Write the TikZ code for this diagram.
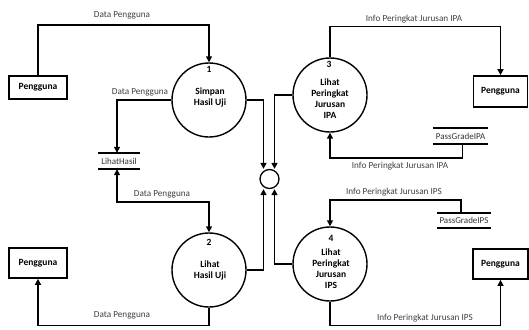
\documentclass[tikz,border=0pt]{standalone}
\usepackage{fontspec}
\setmainfont{Carlito}
\usetikzlibrary{arrows.meta}
\begin{document}
\begin{tikzpicture}[x=1pt,y=-1pt,
  font=\fontsize{9}{10.5}\selectfont,
  flow/.style={line width=1.5pt,-{Triangle[length=6pt,width=6pt]}},
  flowboth/.style={line width=1.5pt,{Triangle[length=6pt,width=6pt]}-{Triangle[length=6pt,width=6pt]}},
  ent/.style={draw,line width=1.7pt,minimum width=58pt,inner sep=0pt,font=\fontsize{9.5}{11}\selectfont\bfseries},
  proc/.style={draw,circle,line width=1.4pt,minimum size=74pt,inner sep=0pt},
  ptext/.style={align=center,inner sep=0pt,font=\fontsize{9.5}{11}\selectfont\bfseries},
  store/.style={minimum height=16pt,inner sep=0pt,text=black!80,font=\fontsize{9}{10.5}\selectfont},
  storeline/.style={line width=1.5pt},
  lbl/.style={inner sep=0pt,text=black!75,font=\fontsize{9.2}{10.5}\selectfont}]
\useasboundingbox (0,0) rectangle (529,329);

% external entities
\node[ent,minimum height=23pt] (e1) at (38,87.5) {Pengguna};
\node[ent,minimum height=30pt] (e2) at (38,263) {Pengguna};
\node[ent,minimum width=54pt,minimum height=31pt] (e3) at (500.5,91.5) {Pengguna};
\node[ent,minimum width=55pt,minimum height=30pt] (e4) at (500.5,264) {Pengguna};

% processes
\node[proc] (p1) at (209,100) {};
\node[ptext] (n1) at (209,69) {1};
\node[ptext] (t1) at (210,97) {Simpan\\Hasil Uji};

\node[proc] (p2) at (209,270) {};
\node[ptext] (n2) at (209,242) {2};
\node[ptext] (t2) at (210,270.5) {Lihat\\Hasil Uji};

\node[proc] (p3) at (330,95) {};
\node[ptext] (n3) at (329,64) {3};
\node[ptext] (t3) at (330,98.5) {Lihat\\Peringkat\\Jurusan\\IPA};

\node[proc] (p4) at (330,264) {};
\node[ptext] (n4) at (331,238) {4};
\node[ptext] (t4) at (331,268.5) {Lihat\\Peringkat\\Jurusan\\IPS};

% hub
\node[draw,circle,line width=1.3pt,minimum size=19pt,inner sep=0pt] (h) at (269.5,179) {};

% data stores
\node[store,minimum width=42pt] (s1) at (119,161) {LihatHasil};
\draw[storeline] (s1.north west) -- (s1.north east) (s1.south west) -- (s1.south east);
\node[store,minimum width=55pt] (s2) at (460.5,136) {PassGradeIPA};
\draw[storeline] (s2.north west) -- (s2.north east) (s2.south west) -- (s2.south east);
\node[store,minimum width=54pt,minimum height=15pt] (s3) at (464,220.5) {PassGradeIPS};
\draw[storeline] (s3.north west) -- (s3.north east) (s3.south west) -- (s3.south east);

% flows
\draw[flow] (e1.north) -- ++(0,-50) -| (p1.north);
\node[lbl] (l1) at (122,15) {Data Pengguna};

\draw[flow] (p1.west) -| ([xshift=-2pt]s1.north);
\node[lbl] (l2) at (140,92) {Data Pengguna};

\draw[flowboth] ([xshift=-2pt]s1.south) -- ++(0,33) -| (p2.north);
\node[lbl] (l3) at (162,194) {Data Pengguna};

\draw[flow] (p2.south) -- ++(0,18) -| (e2.south);
\node[lbl] (l4) at (122,315) {Data Pengguna};

\draw[flow] (p1.east) -| ([xshift=-6pt]h.north);
\draw[flow] (p3.west) -| ([xshift=5pt]h.north);
\draw[flow] (p2.east) -| ([xshift=-6pt]h.south);
\draw[flow] (p4.west) -| ([xshift=5pt]h.south);

\draw[flow] (p3.north) -- ++(0,-31) -| (e3.north);
\node[lbl] (l5) at (414,19) {Info Peringkat Jurusan IPA};

\draw[flow] ([xshift=2pt]s2.south) -- ++(0,14) -| (p3.south);
\node[lbl] (l6) at (400,166) {Info Peringkat Jurusan IPA};

\draw[flow] ([xshift=-3pt]s3.north) -- ++(0,-13) -| (p4.north);
\node[lbl] (l7) at (394,192) {Info Peringkat Jurusan IPS};

\draw[flow] (p4.south) -- ++(0,24) -| (e4.south);
\node[lbl] (l8) at (425,318) {Info Peringkat Jurusan IPS};
\end{tikzpicture}
\end{document}
